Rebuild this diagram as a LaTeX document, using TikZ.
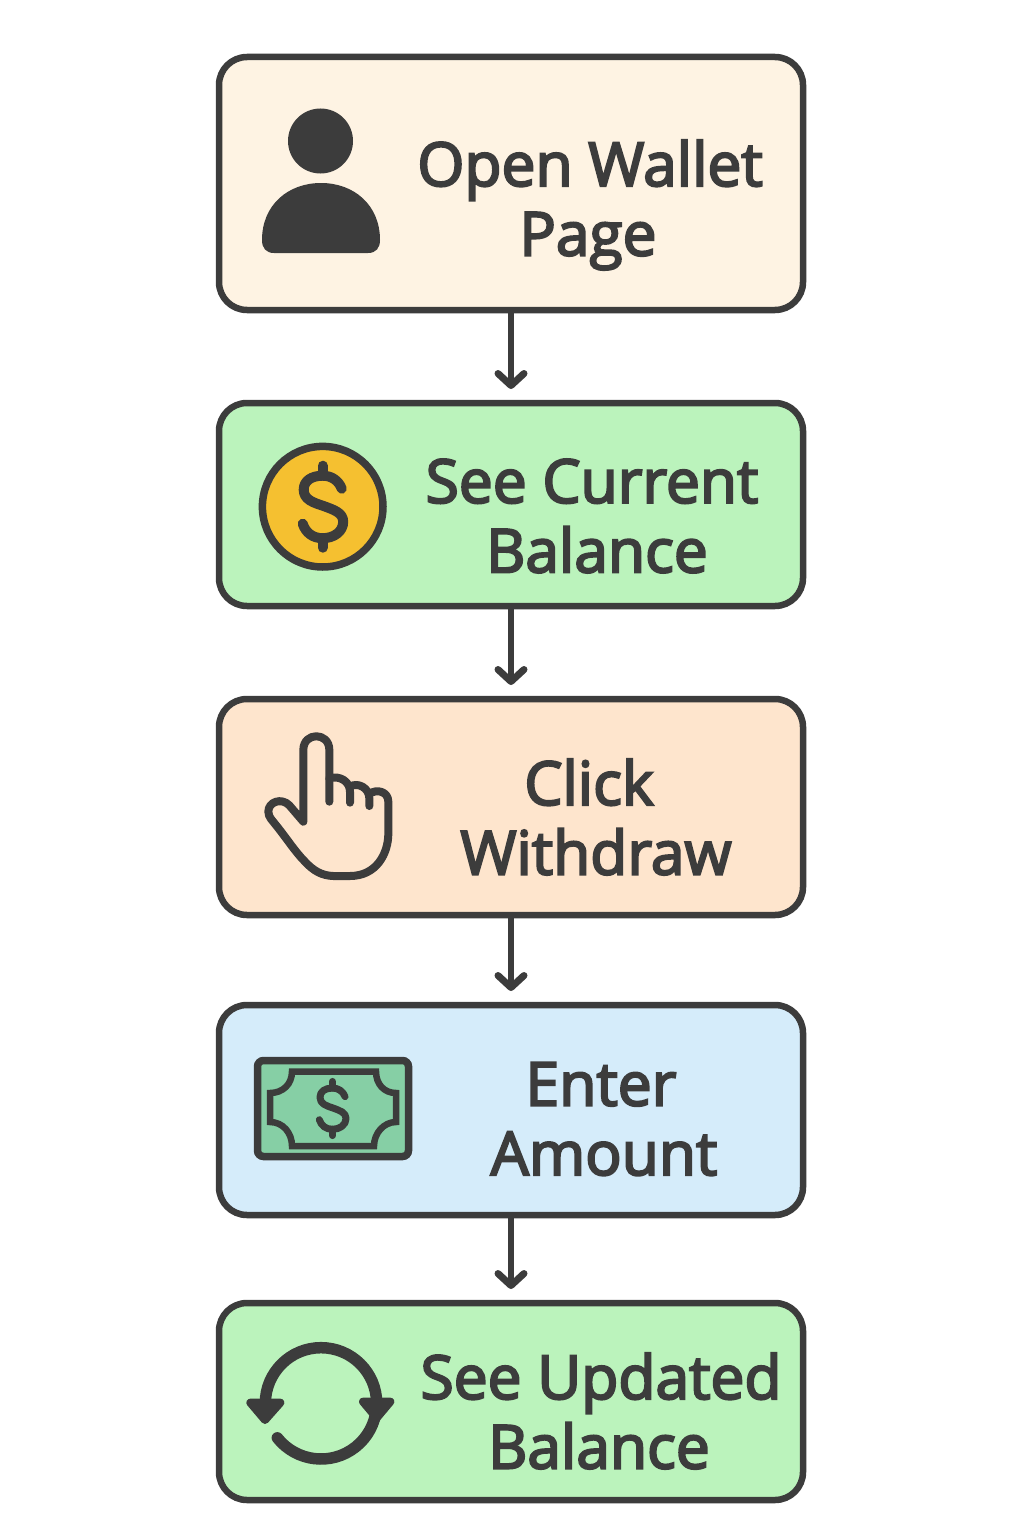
\documentclass[tikz,border=0pt]{standalone}
\usepackage{fontspec}
\setmainfont{Open Sans}[FakeBold=3.5]
\usetikzlibrary{arrows.meta}
\definecolor{ink}{HTML}{3C3C3C}
\definecolor{creamfill}{HTML}{FEF3E3}
\definecolor{greenfill}{HTML}{BBF3BC}
\definecolor{peachfill}{HTML}{FEE5CD}
\definecolor{bluefill}{HTML}{D5ECFA}
\definecolor{coinfill}{HTML}{F5C030}
\definecolor{billfill}{HTML}{86CFA5}
\tikzset{
  x=1pt,y=-1pt,
  stepbox/.style={draw=ink,line width=6.5pt,rounded corners=28pt,minimum width=584pt,inner sep=0pt,outer sep=0pt},
  steptext/.style={text=ink,align=center,font=\fontsize{60.5}{69.5}\selectfont,inner sep=0pt},
  flow/.style={draw=ink,line width=6.5pt,shorten >=14pt,-{Straight Barb[length=12pt,width=26pt,line width=7pt,round]}},
  icon/.style={draw=ink,line cap=round,line join=round},
  dollarsign/.pic={
    \draw[icon,line width=\pgfkeysvalueof{/tikz/dollarwidth}]
      (19,-18) .. controls (16,-26) and (9,-31) .. (0,-31)
      .. controls (-11,-31) and (-19,-26) .. (-19,-17)
      .. controls (-19,-7) and (-9,-4) .. (0,-1)
      .. controls (11,3) and (20.5,6) .. (20.5,15)
      .. controls (20.5,25) and (11,31.5) .. (0,31.5)
      .. controls (-10,31.5) and (-17,26) .. (-20,17);
    \draw[icon,line width=\pgfkeysvalueof{/tikz/dollarwidth}] (0,-41) -- (0,-31) (0,31.5) -- (0,41);
  },
  dollarwidth/.initial=10pt
}
\begin{document}
\begin{tikzpicture}
\useasboundingbox (0,0) rectangle (1024,1536);
\node[stepbox,fill=creamfill,minimum height=253pt] (open) at (511,183.5) {};
\node[stepbox,fill=greenfill,minimum height=203pt] (see) at (511,504.5) {};
\node[stepbox,fill=peachfill,minimum height=216pt] (click) at (511,807) {};
\node[stepbox,fill=bluefill,minimum height=210pt] (enter) at (511,1110) {};
\node[stepbox,fill=greenfill,minimum height=197pt] (updated) at (511,1401.5) {};
\draw[flow,xshift=1pt] (open) -- (see);
\draw[flow,xshift=1pt] (see) -- (click);
\draw[flow,xshift=1pt] (click) -- (enter);
\draw[flow,xshift=1pt] (enter) -- (updated);

\node[steptext] (t1) at (590,205) {Open Wallet\\\hspace*{-4pt}Page};
\node[steptext] (t2) at (592,516) {See Current\\\hspace*{10pt}Balance};
\node[steptext] (t3) at (596,817) {\hspace*{-14pt}Click\\Withdraw};
\node[steptext] (t4) at (604,1119) {\hspace*{-6pt}Enter\\Amount};
\node[steptext] (t5) at (601,1411) {See Updated\\\hspace*{-4pt}Balance};

% person
\fill[ink] (320.5,141) circle[radius=32.5];
\fill[ink] (262,240) .. controls (262,205) and (288,183) .. (321,183)
  .. controls (354,183) and (380,205) .. (380,240)
  .. controls (380,248) and (376,253) .. (368,253) -- (274,253)
  .. controls (266,253) and (262,248) .. (262,240) -- cycle;

% coin
\draw[draw=ink,fill=coinfill,line width=7.5pt] (322.7,506.7) circle[radius=60.3];
\pic at (322.7,506.7) {dollarsign};

% hand
\begin{scope}[shift={(230,720)},scale=1/3]
\draw[icon,line width=8pt]
  (298,245) -- (298,90) .. controls (298,35) and (220,35) .. (220,90) -- (220,305)
  -- (178,256) .. controls (155,232) and (115,245) .. (115,275)
  .. controls (115,292) and (128,302) .. (140,318)
  .. controls (170,355) and (195,395) .. (225,425)
  .. controls (250,452) and (275,467) .. (310,468) -- (360,468)
  .. controls (440,468) and (475,400) .. (475,340) -- (475,245)
  .. controls (475,215) and (440,205) .. (418,222);
\draw[icon,line width=8pt] (298,175) .. controls (330,165) and (360,185) .. (360,215) -- (360,248);
\draw[icon,line width=8pt] (360,200) .. controls (385,185) and (418,205) .. (418,235) -- (418,258);
\end{scope}

% bill
\draw[draw=ink,fill=billfill,line width=7.5pt,rounded corners=6pt] (257.5,1060.5) rectangle (408.5,1156.5);
\draw[draw=ink,line width=6.5pt,line join=miter]
  (292,1071.5) -- (376,1071.5) .. controls (376,1084) and (384,1093) .. (396,1093)
  -- (396,1122) .. controls (384,1122) and (374,1133) .. (374,1146)
  -- (292,1146) .. controls (292,1133) and (283,1122) .. (270,1122)
  -- (270,1093) .. controls (283,1093) and (292,1084) .. (292,1071.5) -- cycle;
\begin{scope}[dollarwidth=7pt]
\pic[scale=0.66] at (332.5,1108.5) {dollarsign};
\end{scope}

% refresh
\begin{scope}[shift={(235,1330)},scale=1/3]
\draw[icon,line width=11.5pt] (91,220) arc[start angle=180,end angle=360,radius=167];
\draw[icon,line width=11.5pt] (127,323.5) arc[start angle=141.7,end angle=5,radius=167];
\fill[ink,draw=ink,line width=8pt,line join=round] (46,218) -- (136,218) -- (90,270) -- cycle;
\fill[ink,draw=ink,line width=8pt,line join=round] (384,215) -- (466,215) -- (425,264) -- cycle;
\end{scope}
\end{tikzpicture}
\end{document}
